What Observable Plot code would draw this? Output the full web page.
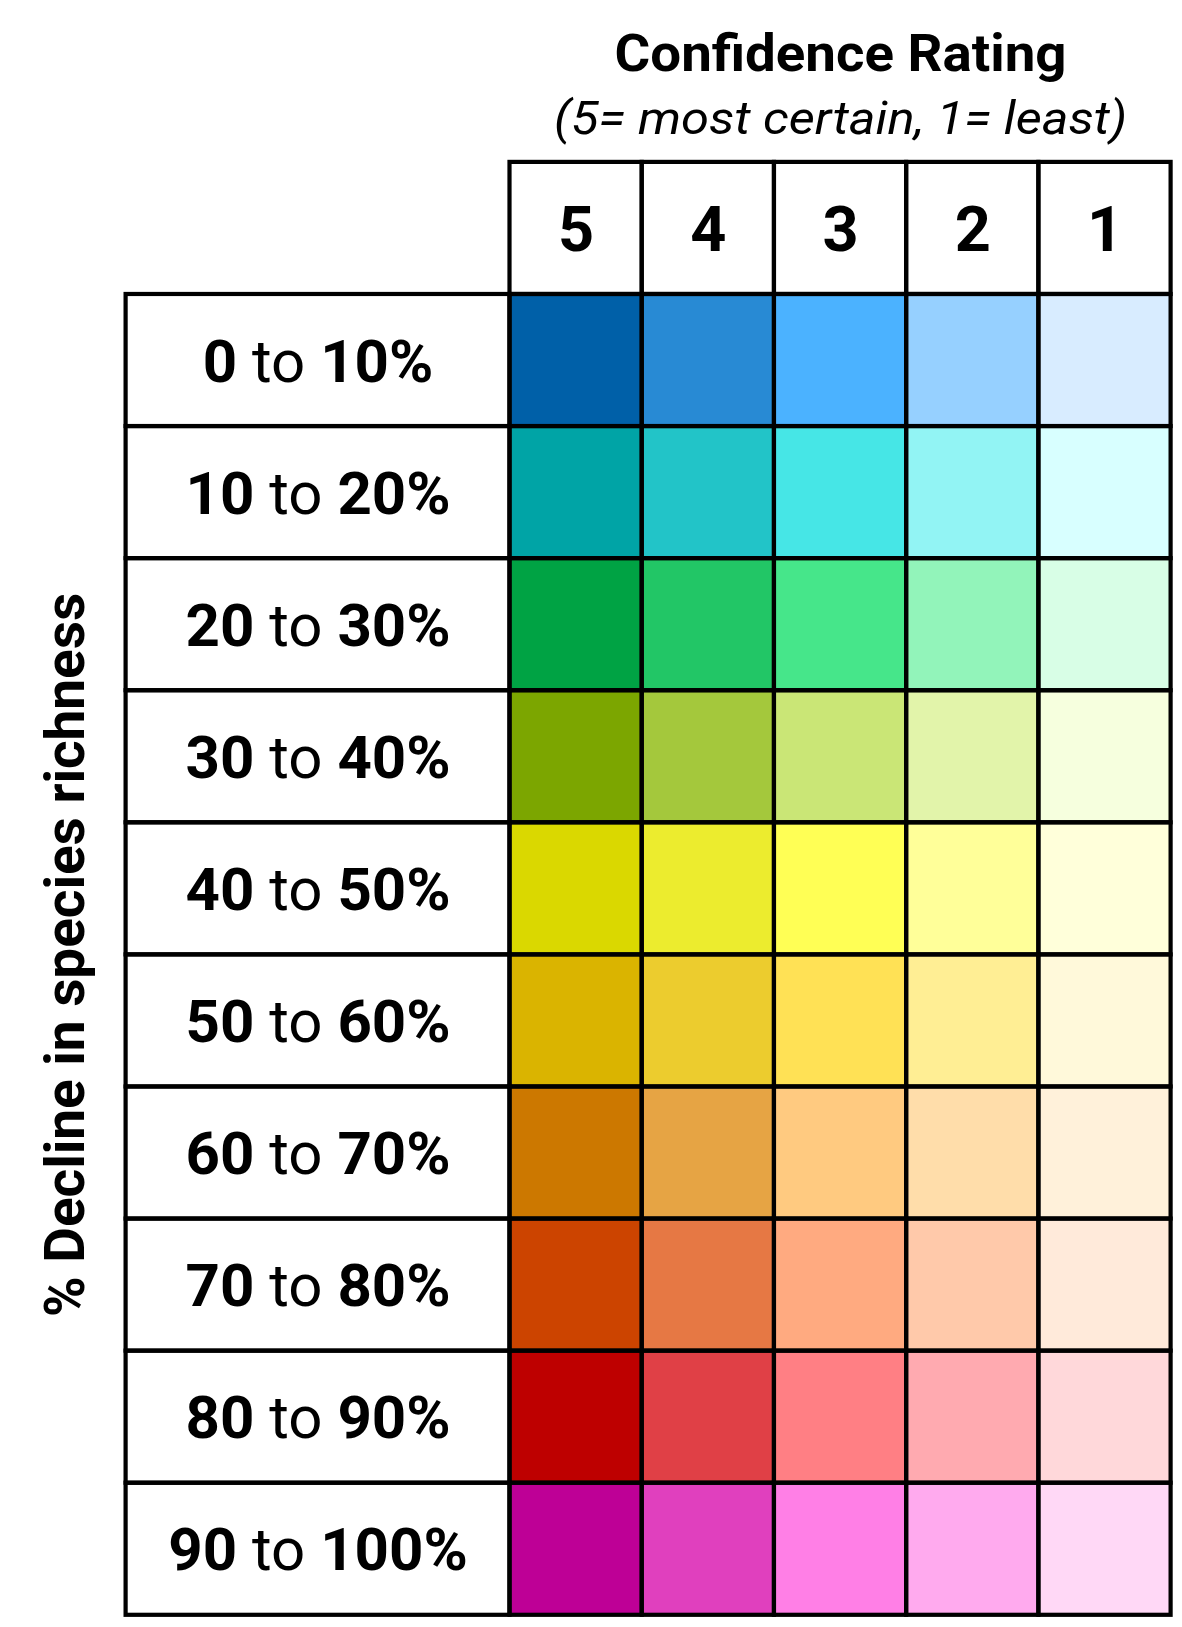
<!DOCTYPE html>
<html>
<head>
<meta charset="utf-8">
<script src="https://cdn.jsdelivr.net/npm/d3@7"></script>
<script src="https://cdn.jsdelivr.net/npm/@observablehq/plot@0.6"></script>
<style>
  html, body { margin: 0; padding: 0; background: #fff; }
  #chart svg { display: block; }
</style>
</head>
<body>
<div id="chart"></div>
<script>
// ---- data ----
const titleText = "Confidence Rating";
const subtitleText = "(5= most certain, 1= least)";
const yTitleText = "% Decline in species richness";

const ratings = [5, 4, 3, 2, 1];
const lowerBounds = [0, 10, 20, 30, 40, 50, 60, 70, 80, 90];
const upperBounds = [10, 20, 30, 40, 50, 60, 70, 80, 90, 100];

// cell colours, one list per confidence rating (top row to bottom row)
const rating5Colors = ["#0060A8", "#00A4A6", "#00A344", "#7CA600", "#DAD800", "#DAB400", "#CC7800", "#CC4400", "#BE0000", "#BE0096"];
const rating4Colors = ["#288AD4", "#22C4C8", "#22C666", "#A4C83C", "#ECEC2E", "#ECCC2E", "#E6A444", "#E67844", "#E04046", "#E040BE"];
const rating3Colors = ["#4BB2FF", "#46E6E6", "#46E68A", "#CAE676", "#FFFF55", "#FFE155", "#FFCA80", "#FFAA80", "#FF7F84", "#FF7FE6"];
const rating2Colors = ["#96D0FF", "#92F4F4", "#92F4BA", "#E2F4AA", "#FFFF99", "#FFEE94", "#FFDDAA", "#FFC9AA", "#FFAAB0", "#FFAAEE"];
const rating1Colors = ["#D8ECFF", "#D8FFFF", "#D8FEE6", "#F6FFDE", "#FFFFDA", "#FFF9DA", "#FFF1DA", "#FFEADA", "#FFD8DA", "#FFD8F6"];
const colorsByRating = [rating5Colors, rating4Colors, rating3Colors, rating2Colors, rating1Colors];

// ---- layout constants ----
const LABEL_SPAN = 2.9035; // width of the label column, in cell widths

// ---- tables built from the arrays ----
const rowLabels = lowerBounds.map((lo, j) => `${lo} to ${upperBounds[j]}%`);
const cells = [];
ratings.forEach((r, i) => {
  lowerBounds.forEach((lo, j) => {
    cells.push({rating: r, col: i, row: j, color: colorsByRating[i][j]});
  });
});
const headerCells = ratings.map((r, i) => ({rating: r, col: i}));
const labelCells = rowLabels.map((label, j) => ({label, row: j}));

const LINE = 4.2;

const svg = Plot.plot({
  width: 1182,
  height: 1627,
  marginLeft: 125.6,
  marginRight: 11.4,
  marginTop: 161.9,
  marginBottom: 12.2,
  x: {type: "linear", domain: [-LABEL_SPAN, ratings.length], axis: null},
  y: {type: "linear", domain: [-1, rowLabels.length], reverse: true, axis: null},
  style: {fontFamily: "Roboto, 'Noto Sans', sans-serif", background: "white", color: "black", overflow: "visible"},
  marks: [
    // coloured cells
    Plot.rect(cells, {
      x1: d => d.col, x2: d => d.col + 1,
      y1: d => d.row, y2: d => d.row + 1,
      fill: d => d.color
    }),
    // header boxes
    Plot.rect(headerCells, {
      x1: d => d.col, x2: d => d.col + 1,
      y1: -1, y2: 0,
      fill: "white"
    }),
    // label boxes
    Plot.rect(labelCells, {
      x1: -LABEL_SPAN, x2: 0,
      y1: d => d.row, y2: d => d.row + 1,
      fill: "white"
    }),
    // outlines
    Plot.rect(cells, {
      x1: d => d.col, x2: d => d.col + 1,
      y1: d => d.row, y2: d => d.row + 1,
      fill: "none", stroke: "black", strokeWidth: LINE
    }),
    Plot.rect(headerCells, {
      x1: d => d.col, x2: d => d.col + 1,
      y1: -1, y2: 0,
      fill: "none", stroke: "black", strokeWidth: LINE
    }),
    Plot.rect(labelCells, {
      x1: -LABEL_SPAN, x2: 0,
      y1: d => d.row, y2: d => d.row + 1,
      fill: "none", stroke: "black", strokeWidth: LINE
    }),
    // header numbers
    Plot.text(headerCells, {
      x: d => d.col + 0.5, y: -0.5, text: d => String(d.rating),
      fontSize: 63, fontWeight: "bold", textAnchor: "middle", lineAnchor: "middle",
      dy: 2, fill: "black"
    }),
    // row labels
    Plot.text(labelCells, {
      x: -LABEL_SPAN / 2, y: d => d.row + 0.5, text: d => d.label,
      fontSize: 60, textAnchor: "middle", lineAnchor: "middle",
      dy: 2, fill: "black", className: "row-labels"
    }),
    // title
    Plot.text([titleText], {
      x: ratings.length / 2, frameAnchor: "top", text: d => d,
      dy: -91.2, lineAnchor: "bottom", textAnchor: "middle",
      fontSize: 52.5, fontWeight: "bold", fill: "black", className: "chart-title"
    }),
    // subtitle
    Plot.text([subtitleText], {
      x: ratings.length / 2, frameAnchor: "top", text: d => d,
      dy: -28.6, lineAnchor: "bottom", textAnchor: "middle",
      fontSize: 47, fontStyle: "italic", fill: "black", className: "chart-subtitle"
    }),
    // y title
    Plot.text([yTitleText], {
      frameAnchor: "left", y: rowLabels.length / 2, text: d => d,
      dx: -42.3, rotate: -90, textAnchor: "middle", lineAnchor: "bottom",
      fontSize: 56, fontWeight: "bold", fill: "black", className: "y-title"
    })
  ]
});

// mixed weights in the row labels: bounds bold, "to" regular
d3.select(svg).selectAll(".row-labels text").each(function (i) {
  const idx = typeof i === "number" ? i : 0;
  const lo = lowerBounds[idx], hi = upperBounds[idx];
  const t = d3.select(this);
  t.text(null);
  t.append("tspan").attr("font-weight", "bold").text(String(lo));
  t.append("tspan").attr("font-weight", "normal").text(" to ");
  t.append("tspan").attr("font-weight", "bold").text(`${hi}%`);
});

// condensed look of the titles
d3.select(svg).selectAll(".chart-title text").attr("textLength", 452).attr("lengthAdjust", "spacingAndGlyphs");
d3.select(svg).selectAll(".chart-subtitle text").attr("textLength", 573).attr("lengthAdjust", "spacingAndGlyphs");
d3.select(svg).selectAll(".y-title text").attr("textLength", 724).attr("lengthAdjust", "spacingAndGlyphs");

document.getElementById("chart").appendChild(svg);
</script>
</body>
</html>
